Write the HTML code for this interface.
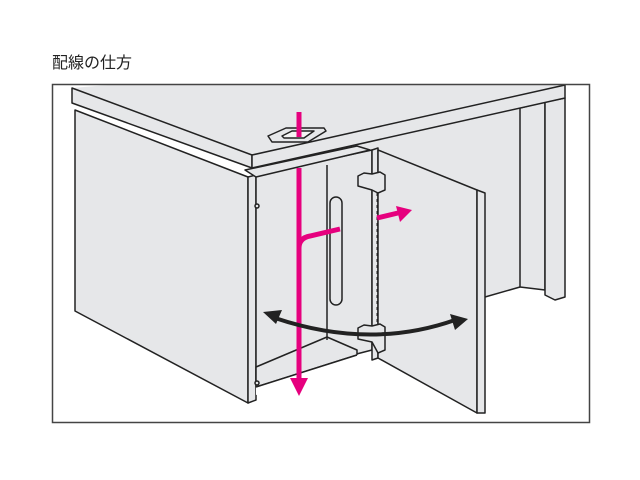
<!DOCTYPE html>
<html><head><meta charset="utf-8"><style>
html,body{margin:0;padding:0;background:#fff;}
body{width:640px;height:480px;position:relative;overflow:hidden;}
.t{position:absolute;left:52px;top:49px;font:16px "Liberation Sans","Noto Sans CJK JP",sans-serif;color:#222;}
</style></head><body>
<div class="t">配線の仕方</div>
<svg width="640" height="480" style="position:absolute;left:0;top:0" xmlns="http://www.w3.org/2000/svg">
<g stroke="#222" stroke-width="1.5" stroke-linejoin="round" fill="#e6e7e9">
<!-- top surface -->
<polygon points="72,88 120,84 565,84 565,85 252,155" stroke="none"/>
<!-- back area under desk -->
<polygon points="252,168 565,98 520,108 520,287 485,297 485,193 378,150" stroke="none"/>
<!-- back right panel and leg -->
<polygon points="520,108 545,102 545,290 520,287"/>
<polygon points="545,102 565,98 565,297 555,300 545,295"/>
<line x1="485" y1="297" x2="520" y2="287"/>
<!-- left panel -->
<polygon points="75,110 248,177 248,403 75,311"/>
<polygon points="248,177 256,175 256,400 248,403"/>
<!-- interior -->
<polygon points="256,175 372,150 372,350 256,380" fill="#e6e7e9"/>
<polygon points="256,367 327,337 357,350 357,355 256,387" fill="#e6e7e9"/>
<polygon points="256,387 357,355 372,352 372,362 256,395" fill="#fff" stroke="none"/>
<line x1="256" y1="387" x2="357" y2="355"/>
<line x1="327" y1="165" x2="327" y2="340"/>
<rect x="330" y="197" width="12" height="108" rx="6"/>
<!-- cabinet top front strip -->
<polygon points="245,170 357,146 370,150 256,177"/>
<!-- slab -->
<polygon points="72,88 252,155 252,168 72,103"/>
<polygon points="252,155 565,85 565,98 252,168"/>
<!-- grommet -->
<polygon points="268,136 286,128 324,128 326,131 308,142 272,142" fill="#e6e7e9"/>
<polygon points="282,136 292,131 314,131 304,138 284,138" fill="#f4f4f4"/>
<!-- door -->
<polygon points="372,150 378,148 378,358 372,360"/>
<polygon points="378,150 477,190 477,413 378,358"/>
<polygon points="477,190 485,193 485,413 477,413"/>
<!-- hinges -->
<polygon points="358,176 364,173 372,174 380,172 385,175 385,190 378,193 372,190 358,186"/>
<polygon points="358,328 364,325 372,326 380,324 385,327 385,350 378,353 372,342 358,339"/>
<line x1="377" y1="193" x2="377" y2="325" stroke-dasharray="3,3" stroke-width="1"/>
<circle cx="257" cy="206" r="2"/>
<circle cx="257" cy="383" r="2"/>
</g>
<!-- magenta cable -->
<g stroke="#e6007e" stroke-width="5" fill="none" stroke-linecap="butt">
<line x1="299" y1="112" x2="299" y2="137"/>
<path d="M340,229 L310,236 Q299,238 299,248"/>
<line x1="299" y1="168" x2="299" y2="380"/>
<path d="M377,218 L398,213"/>
</g>
<polygon points="290,378 308,378 299,396" fill="#e6007e"/>
<polygon points="396,206 412,210 400,222" fill="#e6007e"/>
<!-- black curved double arrow -->
<path d="M275,318 Q370,350 455,320" stroke="#222" stroke-width="4" fill="none"/>
<polygon points="263,312 282,310 276,324" fill="#222"/>
<polygon points="468,319 450,314 455,330" fill="#222"/>
<!-- frame -->
<rect x="52.5" y="84.5" width="537" height="338" fill="none" stroke="#444" stroke-width="1.5"/>
</svg>
</body></html>
